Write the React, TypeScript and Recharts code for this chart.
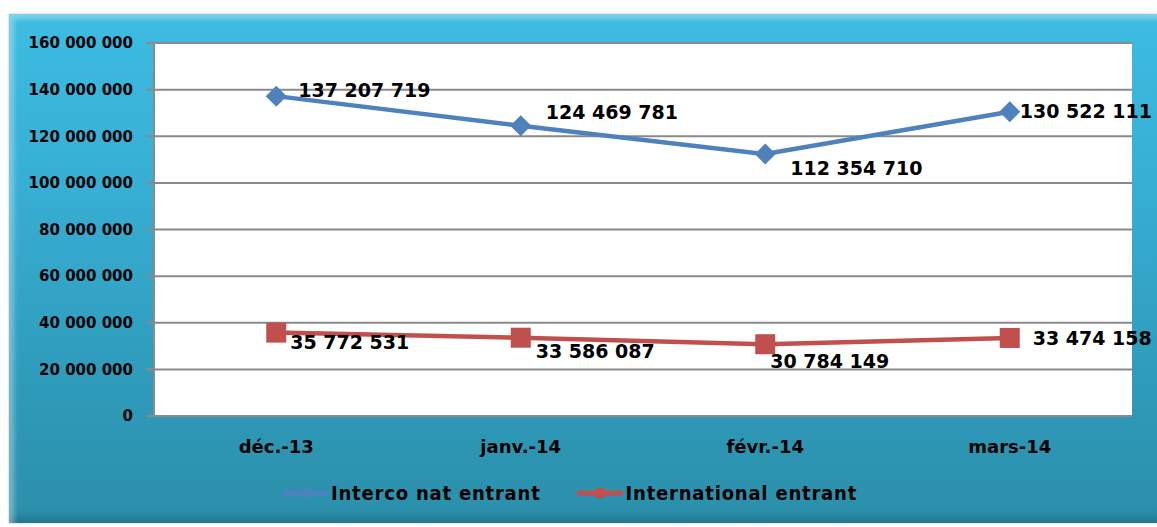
import { CartesianGrid, LabelList, Line, LineChart, XAxis, YAxis } from "recharts";

const months = ["déc.-13", "janv.-14", "févr.-14", "mars-14"];
const intercoNat = [137207719, 124469781, 112354710, 130522111];
const international = [35772531, 33586087, 30784149, 33474158];
const yTicks = [0, 20000000, 40000000, 60000000, 80000000, 100000000, 120000000, 140000000, 160000000];

const BLUE = "#4F81BD";
const RED = "#C0504D";
const GRID = "#8a8a8a";

// label nudges relative to each point [dx, dy]
const blueNudge = [[22, 1], [25, -7], [25, 21], [10, 6]];
const redNudge = [[14, 16], [15, 20], [5, 24], [23, 7]];

const data = months.map((month, i) => ({
  month,
  interco: intercoNat[i],
  intl: international[i],
}));

const fmt = (v: number) => String(v).replace(/\B(?=(\d{3})+(?!\d))/g, " ");

const labelFont = { fontFamily: "DejaVu Sans", fontWeight: 700 };

function makeLabel(nudge: number[][]) {
  return (props: any) => {
    const { x, y, value, index } = props;
    const [dx, dy] = nudge[index] ?? [0, 0];
    return (
      <text x={x + dx} y={y + dy} fontSize={19} fill="#000" {...labelFont}>
        {fmt(Number(value))}
      </text>
    );
  };
}

const Diamond = (props: any) => {
  const { cx, cy } = props;
  const r = 10.5;
  return (
    <polygon
      points={`${cx},${cy - r} ${cx + r},${cy} ${cx},${cy + r} ${cx - r},${cy}`}
      fill={BLUE}
    />
  );
};

const Square = (props: any) => {
  const { cx, cy } = props;
  return <rect x={cx - 10} y={cy - 10} width={20} height={20} fill={RED} />;
};

function LegendItem({ color, marker, text }: { color: string; marker: "diamond" | "square"; text: string }) {
  return (
    <div style={{ display: "flex", alignItems: "center" }}>
      <svg width={46} height={14} style={{ marginRight: 3 }}>
        <line x1={1} y1={7} x2={45} y2={7} stroke={color} strokeWidth={5} strokeLinecap="round" />
        {marker === "diamond" ? (
          <polygon points="23,1 29,7 23,13 17,7" fill={color} />
        ) : (
          <rect x={18} y={2} width={10} height={10} fill={color} />
        )}
      </svg>
      <span
        style={{
          fontFamily: "'Liberation Sans Narrow', 'DejaVu Sans Condensed', sans-serif",
          fontWeight: 700,
          fontSize: 20,
          letterSpacing: 0.8,
          color: "#000",
        }}
      >
        {text}
      </span>
    </div>
  );
}

export default function App() {
  return (
    <div style={{ position: "absolute", left: 0, top: 0, width: 1157, height: 527, overflow: "hidden", background: "#fff" }}>
      <div
        style={{
          position: "absolute",
          left: 9,
          top: 14,
          width: 1160,
          height: 509,
          background: "linear-gradient(to bottom, #3dbce2 0%, #37aed3 35%, #2f9cbc 70%, #2b8faa 100%)",
          boxShadow:
            "inset 5px 5px 5px rgba(255,255,255,0.35), inset -4px -6px 8px rgba(0,0,0,0.18), 0 0 2px rgba(0,0,0,0.3)",
        }}
      />
      <div style={{ position: "absolute", left: 0, top: 0 }}>
        <LineChart width={1157} height={527} data={data} margin={{ top: 43, right: 25, bottom: 80, left: 0 }}>
          <CartesianGrid xAxisId="b" vertical={false} stroke={GRID} strokeWidth={2} fill="#fff" fillOpacity={1} />
          <XAxis
            xAxisId="a"
            type="number"
            domain={[-0.5, 3.5]}
            ticks={[-0.5, 0.5, 1.5, 2.5, 3.5]}
            tick={false}
            tickSize={7}
            tickLine={{ stroke: GRID, strokeWidth: 2 }}
            axisLine={{ stroke: GRID, strokeWidth: 2 }}
            height={1}
          />
          <XAxis
            xAxisId="b"
            dataKey="month"
            scale="band"
            axisLine={false}
            tickLine={false}
            tickSize={6}
            tickMargin={17}
            height={30}
            tick={{ fill: "#000", fontSize: 18, ...labelFont }}
          />
          <YAxis
            width={154}
            domain={[0, 160000000]}
            ticks={yTicks}
            tickFormatter={fmt}
            tickSize={8}
            tickMargin={13}
            axisLine={{ stroke: GRID, strokeWidth: 2 }}
            tickLine={{ stroke: GRID, strokeWidth: 2 }}
            tick={{ fill: "#000", fontSize: 15, ...labelFont }}
          />
          <Line
            xAxisId="b"
            dataKey="interco"
            name="Interco nat entrant"
            stroke={BLUE}
            strokeWidth={4.5}
            dot={(p: any) => <Diamond key={`d${p.index}`} {...p} />}
            activeDot={false}
            isAnimationActive={false}
          >
            <LabelList dataKey="interco" content={makeLabel(blueNudge)} />
          </Line>
          <Line
            xAxisId="b"
            dataKey="intl"
            name="International entrant"
            stroke={RED}
            strokeWidth={4.5}
            dot={(p: any) => <Square key={`s${p.index}`} {...p} />}
            activeDot={false}
            isAnimationActive={false}
          >
            <LabelList dataKey="intl" content={makeLabel(redNudge)} />
          </Line>
        </LineChart>
      </div>
      <div style={{ position: "absolute", left: 282, top: 481, display: "flex", gap: 36 }}>
        <LegendItem color={BLUE} marker="diamond" text="Interco nat entrant" />
        <LegendItem color={RED} marker="square" text="International entrant" />
      </div>
    </div>
  );
}
